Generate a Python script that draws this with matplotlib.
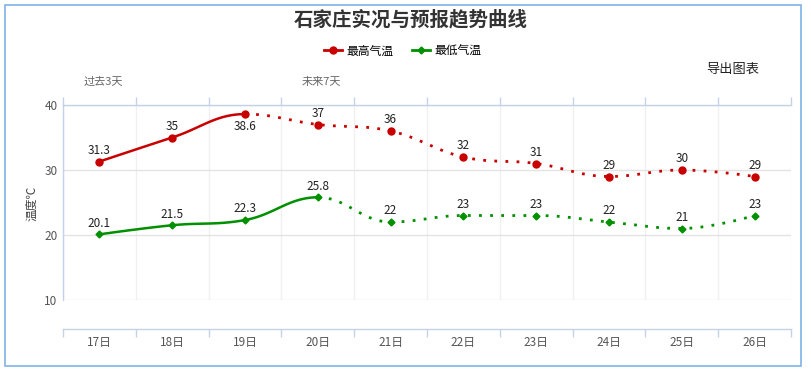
import numpy as np
import matplotlib
matplotlib.use('Agg')
import matplotlib.pyplot as plt
from matplotlib.lines import Line2D
from matplotlib.patches import Rectangle

plt.rcParams['font.family'] = ['Noto Sans CJK SC', 'DejaVu Sans']

days = ['17日', '18日', '19日', '20日', '21日', '22日', '23日', '24日', '25日', '26日']
high = [31.3, 35, 38.6, 37, 36, 32, 31, 29, 30, 29]
low = [20.1, 21.5, 22.3, 25.8, 22, 23, 23, 22, 21, 23]
high_obs = 3   # observed days (solid), rest forecast (dotted)
low_obs = 4
high_label = ['31.3', '35', '38.6', '37', '36', '32', '31', '29', '30', '29']
low_label = ['20.1', '21.5', '22.3', '25.8', '22', '23', '23', '22', '21', '23']

RED = '#c80000'
GREEN = '#009000'
AXC = '#c4d2e8'


def spline_pieces(xs, ys, smoothing=1.5):
    # highcharts-style spline, one bezier per segment
    n = len(xs)
    lc = [None] * n
    rc = [None] * n
    d = smoothing + 1
    for i in range(1, n - 1):
        lx, ly = xs[i - 1], ys[i - 1]
        px, py = xs[i], ys[i]
        nx, ny = xs[i + 1], ys[i + 1]
        lcx = (smoothing * px + lx) / d
        lcy = (smoothing * py + ly) / d
        rcx = (smoothing * px + nx) / d
        rcy = (smoothing * py + ny) / d
        corr = (rcy - lcy) * (rcx - px) / (rcx - lcx) + py - rcy
        lcy += corr
        rcy += corr
        if lcy > ly and lcy > py:
            lcy = max(ly, py)
            rcy = 2 * py - lcy
        elif lcy < ly and lcy < py:
            lcy = min(ly, py)
            rcy = 2 * py - lcy
        if rcy > ny and rcy > py:
            rcy = max(ny, py)
            lcy = 2 * py - rcy
        elif rcy < ny and rcy < py:
            rcy = min(ny, py)
            lcy = 2 * py - rcy
        lc[i] = (lcx, lcy)
        rc[i] = (rcx, rcy)
    pieces = []
    t = np.linspace(0, 1, 40)[:, None]
    for i in range(1, n):
        p0 = np.array([xs[i - 1], ys[i - 1]])
        p3 = np.array([xs[i], ys[i]])
        p1 = np.array(rc[i - 1]) if rc[i - 1] else p0
        p2 = np.array(lc[i]) if lc[i] else p3
        pts = ((1 - t) ** 3) * p0 + 3 * ((1 - t) ** 2) * t * p1 + 3 * (1 - t) * t ** 2 * p2 + t ** 3 * p3
        pieces.append(pts)
    return pieces


fig = plt.figure(figsize=(8.11, 3.7), dpi=100)
ax = fig.add_axes([63 / 811, 1 - 300 / 370, 728 / 811, 195 / 370])
x = np.arange(len(days))


def draw(vals, n_obs, color, marker, ms):
    pieces = spline_pieces(x, vals)
    solid = np.vstack(pieces[:n_obs - 1])
    dotted = np.vstack(pieces[n_obs - 1:])
    ax.plot(solid[:, 0], solid[:, 1], color=color, lw=1.8, zorder=3)
    ax.plot(dotted[:, 0], dotted[:, 1], color=color, lw=2, ls=(0, (1, 3)), zorder=3)
    ax.plot(x, vals, ls='none', marker=marker, ms=ms, color=color, zorder=4)


draw(high, high_obs, RED, 'o', 5)
draw(low, low_obs, GREEN, 'D', 3.5)

for i in range(len(days)):
    dy = -9 if high_label[i] == '38.6' else 8
    ax.annotate(high_label[i], (x[i], high[i]), xytext=(0, dy), textcoords='offset points',
                ha='center', va='center', fontsize=8.5, color='#222')
    ax.annotate(low_label[i], (x[i], low[i]), xytext=(0, 8), textcoords='offset points',
                ha='center', va='center', fontsize=8.5, color='#222')

ax.set_xlim(-0.5, 9.5)
ax.set_ylim(10, 40)
for b in np.arange(-0.5, 10, 1):
    ax.axvline(b, color='#f0f0f0', lw=1, zorder=0)
for v in [10, 20, 30, 40]:
    ax.axhline(v, color='#e3e3e3', lw=1, zorder=0)

ax.set_xticks(np.arange(-0.5, 10, 1))
ax.set_xticklabels([])
ax.set_xticks(x, minor=True)
ax.set_xticklabels(days, minor=True)
ax.tick_params(axis='x', which='major', top=True, bottom=True, direction='out',
               length=6, color=AXC, width=1)
ax.tick_params(axis='x', which='minor', length=0, pad=5, labelsize=8.5, labelcolor='#555')
ax.set_yticks([10, 20, 30, 40])
ax.tick_params(axis='y', length=0, pad=4, labelsize=8.5, labelcolor='#555')

ax.spines['right'].set_visible(False)
for s in ['left', 'top', 'bottom']:
    ax.spines[s].set_color(AXC)
    ax.spines[s].set_linewidth(1)
ax.spines['bottom'].set_position(('outward', 20.7))

fig.text(411 / 811, 1 - 20 / 370, '石家庄实况与预报趋势曲线', ha='center', va='center',
         fontsize=14, fontweight='bold', color='#333')
fig.text(32 / 811, 1 - 203 / 370, '温度℃', rotation=90, ha='center', va='center',
         fontsize=8.5, color='#444')
fig.text(103 / 811, 1 - 82 / 370, '过去3天', ha='center', va='center', fontsize=8, color='#666')
fig.text(321 / 811, 1 - 82 / 370, '未来7天', ha='center', va='center', fontsize=8, color='#666')
fig.text(733 / 811, 1 - 69 / 370, '导出图表', ha='center', va='center', fontsize=9.5, color='#222')

handles = [Line2D([], [], color=RED, lw=2, marker='o', ms=5),
           Line2D([], [], color=GREEN, lw=2, marker='D', ms=3.5)]
fig.legend(handles, ['最高气温', '最低气温'], loc='center', bbox_to_anchor=(403 / 811, 1 - 51 / 370),
           ncol=2, frameon=False, fontsize=8.5, handlelength=1.5, handletextpad=0.4,
           columnspacing=1.6)

fig.patches.append(Rectangle((5 / 811, 1 - 365.5 / 370), 796 / 811, 361 / 370,
                             transform=fig.transFigure, fill=False, edgecolor='#7fb3e6', lw=1.2))

fig.savefig('out.png', dpi=100)
